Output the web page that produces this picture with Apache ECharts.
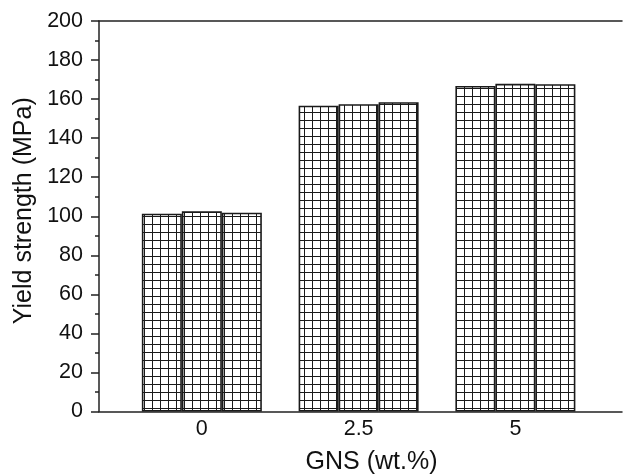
<!DOCTYPE html>
<html>
<head>
<meta charset="utf-8">
<script src="https://cdn.jsdelivr.net/npm/echarts@6/dist/echarts.min.js"></script>
<style>
html,body{margin:0;padding:0;background:#fff;}
#c{width:625px;height:476px;}
</style>
</head>
<body>
<div id="c"></div>
<script>
// Data
var gnsContent = [0, 2.5, 5];
var sample1 = [101.3, 156.6, 166.7];
var sample2 = [102.5, 157.4, 167.8];
var sample3 = [101.8, 158.4, 167.6];
var yTicks = [0, 20, 40, 60, 80, 100, 120, 140, 160, 180, 200];

function hatch() {
  var c = document.createElement('canvas');
  c.width = 8; c.height = 8;
  var g = c.getContext('2d');
  g.fillStyle = '#fff';
  g.fillRect(0, 0, 8, 8);
  g.fillStyle = '#1a1a1a';
  g.fillRect(0, 0, 8, 1);
  g.fillRect(0, 0, 1, 8);
  return c;
}
var pat = { image: hatch(), repeat: 'repeat' };

function pairs(vals) {
  return vals.map(function (v, i) { return [gnsContent[i], v]; });
}

var FONT = "'Liberation Sans', Arial, sans-serif";
var chart = echarts.init(document.getElementById('c'), null, { renderer: 'canvas' });
var barStyle = { color: pat, borderColor: '#1a1a1a', borderWidth: 1.6 };
var X_MIN = -1.64, X_MAX = 6.7;

chart.setOption({
  animation: false,
  grid: { left: 99, right: 3, top: 21, bottom: 64.5, containLabel: false, outerBoundsMode: 'none' },
  xAxis: [{
    type: 'value',
    min: X_MIN,
    max: X_MAX,
    name: 'GNS (wt.%)',
    nameLocation: 'middle',
    nameGap: 38.5,
    nameTextStyle: { fontFamily: FONT, fontSize: 25, color: '#111', padding: [0, 0, 0, 22] },
    axisLine: { show: true, onZero: false, lineStyle: { color: '#222', width: 1.5 } },
    axisTick: { show: false },
    splitLine: { show: false },
    axisLabel: {
      customValues: gnsContent,
      fontFamily: FONT, fontSize: 21.5, color: '#111', margin: 7,
      formatter: function (v) { return String(v); }
    }
  }, {
    type: 'value',
    position: 'top',
    min: X_MIN,
    max: X_MAX,
    axisLine: { show: true, onZero: false, lineStyle: { color: '#222', width: 1.5 } },
    axisTick: { show: false },
    axisLabel: { show: false },
    splitLine: { show: false }
  }],
  yAxis: {
    type: 'value',
    min: 0,
    max: 200,
    interval: 20,
    name: 'Yield strength (MPa)',
    nameLocation: 'middle',
    nameGap: 61,
    nameTextStyle: { fontFamily: FONT, fontSize: 25, color: '#111', padding: [0, 0, 0, 11] },
    axisLine: { show: true, onZero: false, lineStyle: { color: '#222', width: 1.5 } },
    axisTick: { show: true, inside: false, length: 8, lineStyle: { color: '#222', width: 1.5 } },
    minorTick: { show: true, splitNumber: 2, length: 4, lineStyle: { color: '#222', width: 1.5 } },
    splitLine: { show: false },
    axisLabel: {
      fontFamily: FONT, fontSize: 21.5, color: '#111', margin: 16,
      formatter: function (v) { return yTicks.indexOf(v) >= 0 ? String(v) : ''; }
    }
  },
  series: [
    { type: 'bar', data: pairs(sample1), barWidth: 40, barGap: '0%', itemStyle: barStyle },
    { type: 'bar', data: pairs(sample2), barWidth: 40, barGap: '0%', itemStyle: barStyle },
    { type: 'bar', data: pairs(sample3), barWidth: 40, barGap: '0%', itemStyle: barStyle }
  ]
});
</script>
</body>
</html>
